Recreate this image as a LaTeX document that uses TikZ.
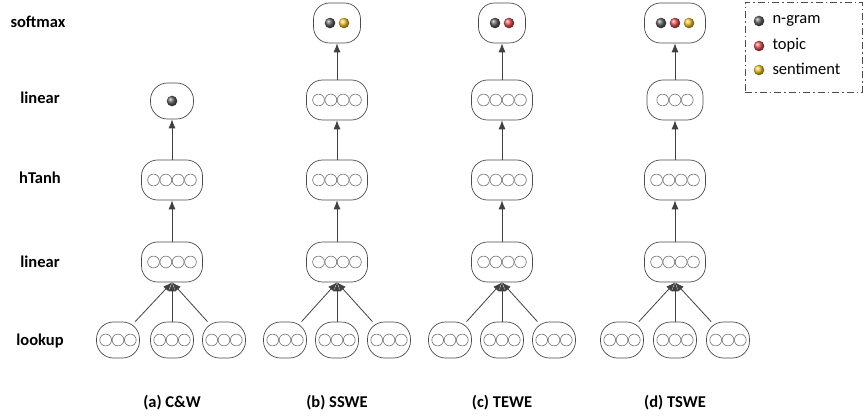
\documentclass[tikz,border=0pt]{standalone}
\usepackage{fontspec}
\setmainfont{Carlito}
\usetikzlibrary{arrows.meta,calc}
\newcommand{\myunits}[3]{%
  \foreach \i in {1,...,#2} {
    \path[unit] ($(#1)+({(\i-(#2+1)/2)*#3},0)$) circle (5.9pt);
  }%
}
\newcommand{\myball}[3]{%
  \shade[ball color=#3] ($(#1)+(#2,0)$) circle (5.3pt);
}
\definecolor{ngram}{RGB}{95,95,95}
\definecolor{topic}{RGB}{225,80,85}
\definecolor{senti}{RGB}{240,195,45}
\begin{document}
\begin{tikzpicture}[x=1pt,y=-1pt,
  layer/.style={draw=black!70, line width=0.7pt, rounded corners=16pt, minimum width=61pt, minimum height=40pt, fill=white, inner sep=0pt},
  look/.style={draw=black!70, line width=0.7pt, rounded corners=17pt, minimum width=43pt, minimum height=36pt, fill=white, inner sep=0pt},
  unit/.style={draw=black!55, line width=0.6pt, fill=white},
  arr/.style={draw=black!75, line width=0.8pt, -{Latex[length=9pt,width=7pt]}},
  rowlab/.style={font=\bfseries\fontsize{16.5}{18}\selectfont, anchor=center},
  caplab/.style={font=\bfseries\fontsize{16.5}{18}\selectfont, anchor=center},
  legtext/.style={font=\fontsize{16.5}{18}\selectfont, anchor=west}
]
\useasboundingbox (0,0) rectangle (865,417);
% row labels
\node[rowlab] (rs) at (38,22) {softmax};
\node[rowlab] (rl2) at (40,98) {linear};
\node[rowlab] (rh) at (40,178) {hTanh};
\node[rowlab] (rl1) at (40,262) {linear};
\node[rowlab] (rk) at (40,341) {lookup};

% ---------- (a) C&W ----------
\node[look] (aL) at (172,101) {};
\myball{aL}{0}{ngram}
\node[layer] (aH) at (172,180) {};
\myunits{aH}{4}{12.3}
\node[layer] (aM) at (172,262) {};
\myunits{aM}{4}{12.3}
\node[look] (ak1) at (118,340) {};
\node[look] (ak2) at (172,340) {};
\node[look] (ak3) at (224,340) {};
\myunits{ak1}{3}{12.3}\myunits{ak2}{3}{12.3}\myunits{ak3}{3}{12.3}
\draw[arr] (aH) -- (aL);
\draw[arr] (aM) -- (aH);
\draw[arr] (ak1) -- (aM.south);
\draw[arr] (ak2) -- (aM.south);
\draw[arr] (ak3) -- (aM.south);
\node[caplab] (ca) at (172,403) {(a) C\&W};

% ---------- (b) SSWE ----------
\node[layer, minimum width=47pt] (bS) at (337,23) {};
\myball{bS}{-7}{ngram}\myball{bS}{7}{senti}
\node[layer] (bL) at (337,100) {};
\myunits{bL}{4}{12.3}
\node[layer] (bH) at (337,180) {};
\myunits{bH}{4}{12.3}
\node[layer] (bM) at (337,262) {};
\myunits{bM}{4}{12.3}
\node[look] (bk1) at (285,340) {};
\node[look] (bk2) at (337,340) {};
\node[look] (bk3) at (389,340) {};
\myunits{bk1}{3}{12.3}\myunits{bk2}{3}{12.3}\myunits{bk3}{3}{12.3}
\draw[arr] (bL) -- (bS);
\draw[arr] (bH) -- (bL);
\draw[arr] (bM) -- (bH);
\draw[arr] (bk1) -- (bM.south);
\draw[arr] (bk2) -- (bM.south);
\draw[arr] (bk3) -- (bM.south);
\node[caplab] (cb) at (337,403) {(b) SSWE};

% ---------- (c) TEWE ----------
\node[layer, minimum width=47pt] (cS) at (502,23) {};
\myball{cS}{-7}{ngram}\myball{cS}{7}{topic}
\node[layer] (cL) at (502,100) {};
\myunits{cL}{4}{12.3}
\node[layer] (cH) at (502,180) {};
\myunits{cH}{4}{12.3}
\node[layer] (cM) at (502,262) {};
\myunits{cM}{4}{12.3}
\node[look] (ck1) at (450,340) {};
\node[look] (ck2) at (502,340) {};
\node[look] (ck3) at (554,340) {};
\myunits{ck1}{3}{12.3}\myunits{ck2}{3}{12.3}\myunits{ck3}{3}{12.3}
\draw[arr] (cL) -- (cS);
\draw[arr] (cH) -- (cL);
\draw[arr] (cM) -- (cH);
\draw[arr] (ck1) -- (cM.south);
\draw[arr] (ck2) -- (cM.south);
\draw[arr] (ck3) -- (cM.south);
\node[caplab] (cc) at (502,403) {(c) TEWE};

% ---------- (d) TSWE ----------
\node[layer] (dS) at (675,23) {};
\myball{dS}{-14}{ngram}\myball{dS}{0}{topic}\myball{dS}{14}{senti}
\node[layer, minimum width=56pt] (dL) at (675,100) {};
\myunits{dL}{3}{12.3}
\node[layer] (dH) at (675,180) {};
\myunits{dH}{4}{12.3}
\node[layer] (dM) at (675,262) {};
\myunits{dM}{4}{12.3}
\node[look] (dk1) at (622,340) {};
\node[look] (dk2) at (675,340) {};
\node[look] (dk3) at (728,340) {};
\myunits{dk1}{3}{12.3}\myunits{dk2}{3}{12.3}\myunits{dk3}{3}{12.3}
\draw[arr] (dL) -- (dS);
\draw[arr] (dH) -- (dL);
\draw[arr] (dM) -- (dH);
\draw[arr] (dk1) -- (dM.south);
\draw[arr] (dk2) -- (dM.south);
\draw[arr] (dk3) -- (dM.south);
\node[caplab] (cd) at (675,403) {(d) TSWE};

% ---------- legend ----------
\node[draw=black!70, line width=0.7pt, dash pattern=on 7pt off 3pt on 1.5pt off 3pt, minimum width=117pt, minimum height=90pt, inner sep=0pt] (leg) at (803.5,47) {};
\coordinate (g1) at (759,21);
\coordinate (g2) at (759,46);
\coordinate (g3) at (759,70);
\myball{g1}{0}{ngram}\myball{g2}{0}{topic}\myball{g3}{0}{senti}
\node[legtext] (t1) at (769,21) {n-gram};
\node[legtext] (t2) at (769,45) {topic};
\node[legtext] (t3) at (769,69) {sentiment};
\end{tikzpicture}
\end{document}
